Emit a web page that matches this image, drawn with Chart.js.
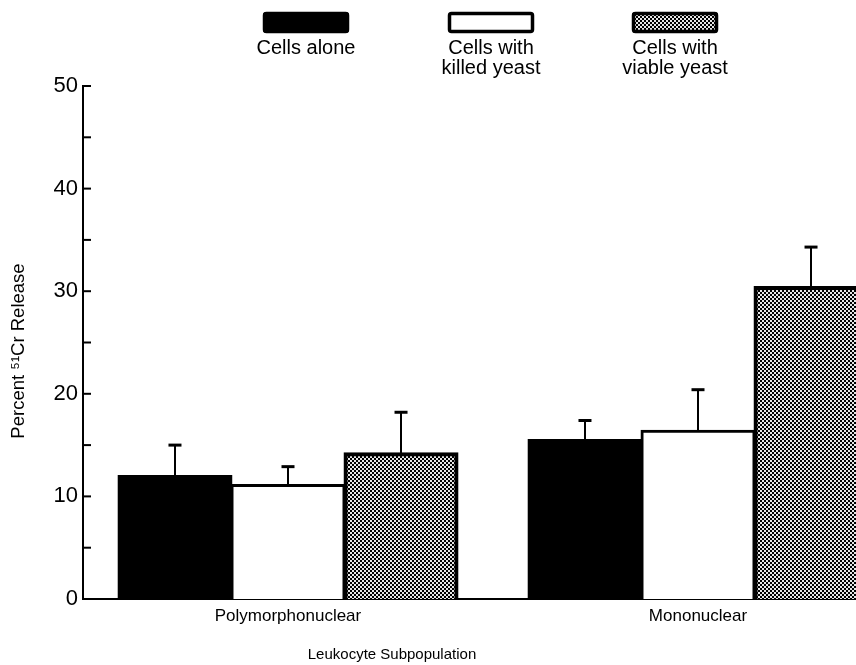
<!DOCTYPE html>
<html>
<head>
<meta charset="utf-8">
<script src="https://cdn.jsdelivr.net/npm/chart.js@4/dist/chart.umd.min.js"></script>
<style>
  html, body { margin: 0; padding: 0; background: #fff; overflow: hidden; }
  #wrap { position: relative; width: 903px; height: 665px; }
</style>
</head>
<body>
<div id="wrap"><canvas id="c" width="903" height="665"></canvas></div>
<script>
// Leukocyte subpopulations on the x axis
const categories = ['Polymorphonuclear', 'Mononuclear'];

// Mean percent 51Cr release and the upper error (mean + SE) for each condition
const cellsAlone        = [12.0, 15.5];
const cellsAloneErr     = [3.0, 1.9];
const killedYeast       = [11.1, 16.4];
const killedYeastErr    = [1.8, 4.0];
const viableYeast       = [14.2, 30.4];
const viableYeastErr    = [4.0, 3.9];

const seriesLabels = ['Cells alone', 'Cells with\nkilled yeast', 'Cells with\nviable yeast'];

// y axis ticks: labelled every 10, minor marks every 5
const yMin = 0, yMax = 50, yStep = 5;
const yLabelled = [0, 10, 20, 30, 40, 50];

const FONT = '"Liberation Sans", Arial, Helvetica, sans-serif';

// fine dithered stipple used for the viable-yeast bars
function stipple() {
  const p = document.createElement('canvas');
  p.width = 4; p.height = 4;
  const g = p.getContext('2d');
  g.fillStyle = '#e6e6e6';
  g.fillRect(0, 0, 4, 4);
  g.fillStyle = '#000';
  g.fillRect(0, 0, 2, 2);
  g.fillRect(2, 2, 2, 2);
  return g.createPattern(p, 'repeat');
}
const ctx0 = document.getElementById('c').getContext('2d');
const dotted = stipple();

// upward-only error bars with a short cap
const errorBars = {
  id: 'errorBars',
  afterDatasetsDraw(chart) {
    const ctx = chart.ctx;
    const y = chart.scales.y;
    chart.data.datasets.forEach((ds, i) => {
      const meta = chart.getDatasetMeta(i);
      meta.data.forEach((bar, j) => {
        const top = y.getPixelForValue(ds.data[j] + ds.errors[j]);
        ctx.save();
        ctx.strokeStyle = '#000';
        ctx.lineWidth = 2;
        ctx.beginPath();
        ctx.moveTo(bar.x, bar.y);
        ctx.lineTo(bar.x, top);
        ctx.stroke();
        ctx.lineWidth = 3;
        ctx.beginPath();
        ctx.moveTo(bar.x - 6.5, top);
        ctx.lineTo(bar.x + 6.5, top);
        ctx.stroke();
        ctx.restore();
      });
    });
  }
};

// inward tick marks along the y axis
const innerTicks = {
  id: 'innerTicks',
  afterDraw(chart) {
    const ctx = chart.ctx;
    const y = chart.scales.y;
    const x0 = chart.chartArea.left;
    ctx.save();
    ctx.strokeStyle = '#000';
    ctx.lineWidth = 2;
    y.ticks.forEach(t => {
      const py = y.getPixelForValue(t.value);
      ctx.beginPath();
      ctx.moveTo(x0, py);
      ctx.lineTo(x0 + 8, py);
      ctx.stroke();
    });
    ctx.restore();
  }
};

// legend: swatch above a centred (possibly two-line) label
const boxLegend = {
  id: 'boxLegend',
  afterDraw(chart) {
    const ctx = chart.ctx;
    const centres = [306, 491, 675];
    ctx.save();
    chart.data.datasets.forEach((ds, i) => {
      const cx = centres[i];
      const w = 86, h = 21, top = 12;
      ctx.fillStyle = ds.backgroundColor;
      ctx.beginPath();
      ctx.roundRect(cx - w / 2, top, w, h, 3);
      ctx.fill();
      ctx.lineWidth = 3.5;
      ctx.strokeStyle = '#000';
      ctx.beginPath();
      ctx.roundRect(cx - w / 2 + 1.5, top + 1.5, w - 3, h - 3, 2);
      ctx.stroke();
      ctx.fillStyle = '#000';
      ctx.font = '20px ' + FONT;
      ctx.textAlign = 'center';
      ctx.textBaseline = 'middle';
      ds.label.split('\n').forEach((line, k) => {
        ctx.fillText(line, cx, 48 + k * 20);
      });
    });
    ctx.restore();
  }
};

// axis titles
const axisTitles = {
  id: 'axisTitles',
  afterDraw(chart) {
    const ctx = chart.ctx;
    ctx.save();
    ctx.fillStyle = '#000';
    ctx.textAlign = 'center';
    ctx.textBaseline = 'middle';
    ctx.font = '15px ' + FONT;
    ctx.fillText('Leukocyte Subpopulation', 392, 655);
    ctx.font = '18.5px ' + FONT;
    ctx.translate(19, 351);
    ctx.rotate(-Math.PI / 2);
    ctx.fillText('Percent \u2075\u00b9Cr Release', 0, 0);
    ctx.restore();
  }
};

new Chart(ctx0, {
  type: 'bar',
  data: {
    labels: categories,
    datasets: [
      { label: seriesLabels[0], data: cellsAlone, errors: cellsAloneErr,
        backgroundColor: '#000', borderColor: '#000', borderWidth: 2 },
      { label: seriesLabels[1], data: killedYeast, errors: killedYeastErr,
        backgroundColor: '#fff', borderColor: '#000', borderWidth: 3 },
      { label: seriesLabels[2], data: viableYeast, errors: viableYeastErr,
        backgroundColor: dotted, borderColor: '#000', borderWidth: 4 }
    ]
  },
  options: {
    responsive: false,
    animation: false,
    layout: { padding: { top: 86, left: 0, right: 0, bottom: 0 } },
    datasets: { bar: { categoryPercentage: 0.827, barPercentage: 1.0, borderSkipped: 'bottom', inflateAmount: 1 } },
    plugins: { legend: { display: false }, tooltip: { enabled: false } },
    scales: {
      x: {
        grid: { display: false, drawTicks: false },
        border: { display: true, color: '#000', width: 2 },
        ticks: { color: '#000', padding: 7, font: { family: FONT, size: 17 } },
        afterFit(s) { s.height = 66; }
      },
      y: {
        min: yMin, max: yMax,
        grid: { display: false, drawTicks: false },
        border: { display: true, color: '#000', width: 2 },
        ticks: {
          stepSize: yStep, color: '#000', padding: 5,
          font: { family: FONT, size: 22 },
          callback: v => yLabelled.includes(v) ? String(v) : ''
        },
        afterFit(s) { s.width = 83; }
      }
    }
  },
  plugins: [errorBars, innerTicks, boxLegend, axisTitles]
});
</script>
</body>
</html>
